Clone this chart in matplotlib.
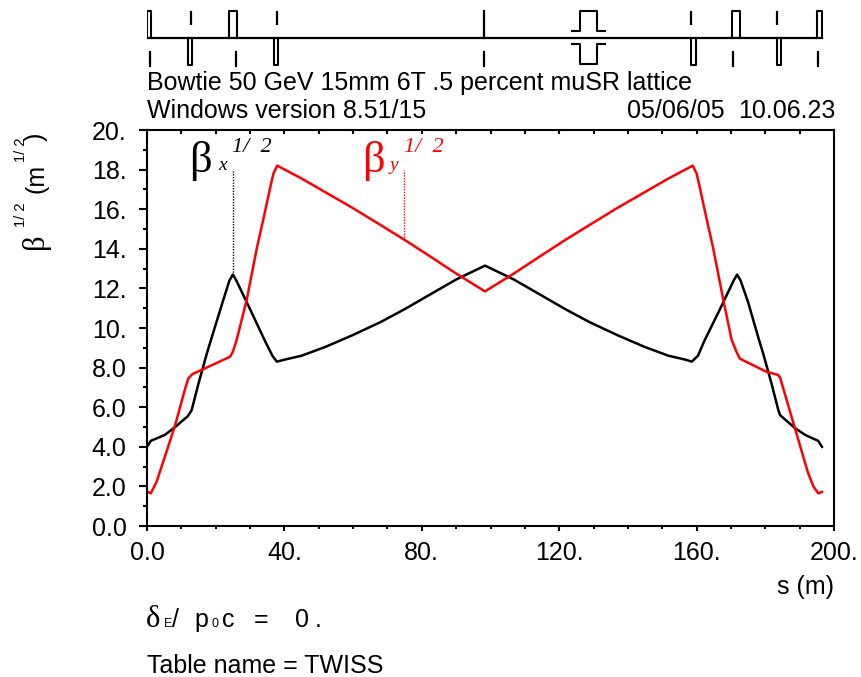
import matplotlib
matplotlib.use("Agg")
import matplotlib.pyplot as plt
import numpy as np

# beta functions
s_x = [0, 1.1, 5.2, 8.2, 11.9, 13, 15, 17.4, 18.8, 22, 24, 25, 26, 30, 34.4, 36.5, 37.8, 40, 45, 52, 60, 68, 75, 83, 90, 98.4,
       106.8, 113.8, 121.8, 128.8, 136.8, 144.8, 151.8, 156.8, 158.6, 160.4, 162.2, 166.8, 170.8, 171.8, 172.8, 175, 178, 179.4, 181.8, 183.8, 184.3, 188.6, 191.6, 195.4, 196.5]
beta_x = [4.0, 4.3, 4.6, 5.0, 5.55, 5.85, 7.2, 8.7, 9.5, 11.3, 12.4, 12.7, 12.4, 10.95, 9.33, 8.6, 8.3, 8.4, 8.6, 9.05, 9.65, 10.3, 10.95, 11.75, 12.45, 13.15,
          12.45, 11.75, 10.95, 10.3, 9.65, 9.05, 8.6, 8.4, 8.3, 8.6, 9.33, 10.95, 12.4, 12.7, 12.4, 11.3, 9.5, 8.7, 7.2, 5.85, 5.6, 4.95, 4.6, 4.3, 4.0]
s_y = [0.1, 1.1, 2.8, 5.2, 8.2, 11, 12, 13.2, 18, 24.2, 25, 26.1, 29, 32, 34, 36, 36.8, 37.9, 45, 52, 60, 68, 75, 83, 90, 98.4,
       106.8, 113.8, 121.8, 128.8, 136.8, 144.8, 151.8, 158.9, 160, 160.8, 162.8, 164.8, 167.8, 170.2, 171.6, 172.6, 180.2, 183.7, 184.3, 188.6, 192.4, 194, 195.4, 196.5]
beta_y = [1.73, 1.65, 2.24, 3.5, 5.1, 6.87, 7.45, 7.67, 8.05, 8.55, 8.8, 9.4, 11.4, 14.05, 15.6, 17.2, 17.8, 18.2, 17.55, 16.85, 16.05, 15.2, 14.45, 13.55, 12.75, 11.85,
          12.75, 13.55, 14.45, 15.2, 16.05, 16.85, 17.55, 18.2, 17.8, 17.2, 15.6, 14.05, 11.4, 9.4, 8.8, 8.45, 7.8, 7.63, 7.5, 4.95, 2.7, 2.0, 1.65, 1.72]

# lattice elements (s in m)
focus_s = [0.6, 25.1, 171.5, 195.8]
focus_w = [0.6, 1.1, 1.1, 0.7]
defocus_s = [12.6, 37.5, 159.1, 184.0]
defocus_w = [0.6, 0.6, 0.6, 0.6]
upper_dash = [12.8, 37.8, 158.4, 183.4]
lower_dash = [0.9, 25.9, 98.1, 170.5, 195.3]
center_s = 98.1
rf_s = [123.6, 126, 126, 130.9, 130.9, 133.4]

x_ticks = [0, 40, 80, 120, 160, 200]
x_labels = ["0.0", "40.", "80.", "120.", "160.", "200."]
y_ticks = [0, 2, 4, 6, 8, 10, 12, 14, 16, 18, 20]
y_labels = ["0.0", "2.0", "4.0", "6.0", "8.0", "10.", "12.", "14.", "16.", "18.", "20."]

W, H = 861, 677
plt.rcParams['font.family'] = ['Liberation Sans', 'DejaVu Sans']
fig = plt.figure(figsize=(W / 100, H / 100), dpi=100)

def box(x0, y0, x1, y1):
    return [x0 / W, 1 - y1 / H, (x1 - x0) / W, (y1 - y0) / H]

def put(x, y, txt, **kw):
    kw.setdefault('fontsize', 18)
    kw.setdefault('va', 'baseline')
    return fig.text(x / W, 1 - y / H, txt, **kw)

ax = fig.add_axes(box(147, 130, 834, 526))
ax.plot(s_x, beta_x, color='black', lw=1.8)
ax.plot(s_y, beta_y, color='red', lw=1.8)
ax.set_xlim(0, 200)
ax.set_ylim(0, 20)

# dotted leaders from the labels down to the curves
ax.plot([25.1, 25.1], [12.7, 18.0], color='black', lw=1, ls=(0, (1, 1)))
ax.plot([74.9, 74.9], [14.45, 18.0], color='red', lw=1, ls=(0, (1, 1)))

ax.set_xticks(x_ticks)
ax.set_xticklabels(x_labels)
ax.set_yticks(y_ticks)
ax.set_yticklabels(y_labels)
ax.set_xticks(np.arange(0, 201, 10), minor=True)
ax.set_yticks(np.arange(0, 21, 1), minor=True)
ax.tick_params(axis='y', which='major', length=5.8, width=1.5, labelsize=18, pad=9)
ax.tick_params(axis='y', which='minor', length=2.9, width=1.5)
ax.tick_params(axis='x', which='major', length=3.6, width=1.5, labelsize=18, pad=7)
ax.tick_params(axis='x', which='minor', length=2.2, width=1.5)
for sp in ax.spines.values():
    sp.set_linewidth(1.5)

# top ticks point inward
for val in np.arange(0, 201, 10):
    ax.plot([val, val], [20, 19.85], color='black', lw=1.5, clip_on=False)

# lattice strip on the same s scale
lat = fig.add_axes(box(147, 0, 834, 80))
lat.set_xlim(0, 200)
lat.set_ylim(80, 0)
lat.axis('off')
lat.plot([0, 196.5], [37.5, 37.5], color='black', lw=1.6)
for c, w in zip(focus_s, focus_w):
    lat.plot([c - w, c - w, c + w, c + w], [37.5, 11, 11, 37.5], color='black', lw=1.5)
for c, w in zip(defocus_s, defocus_w):
    lat.plot([c - w, c - w, c + w, c + w], [37.5, 65, 65, 37.5], color='black', lw=1.5)
lat.plot([center_s, center_s], [11, 37.5], color='black', lw=1.6)
for c in upper_dash:
    lat.plot([c, c], [11.5, 24], color='black', lw=1.6)
for c in lower_dash:
    lat.plot([c, c], [51.5, 65.5], color='black', lw=1.6)
lat.plot(rf_s, [31, 31, 11, 11, 31, 31], color='black', lw=1.5)
lat.plot(rf_s, [44, 44, 64, 64, 44, 44], color='black', lw=1.5)

put(147, 90, "Bowtie 50 GeV 15mm 6T .5 percent muSR lattice")
put(147, 118, "Windows version 8.51/15")
put(627, 118, "05/06/05")
put(738, 118, "10.06.23")
put(834, 594, "s (m)", ha='right')

serif = ['Liberation Serif', 'DejaVu Serif']
put(146, 627, "\u03b4", family=serif, fontsize=22)
put(164, 627, "E", fontsize=9)
put(172, 627, "/")
put(194, 627, "p")
put(212, 627, "0", fontsize=9)
put(222, 627, "c")
put(254, 627, "=")
put(295, 627, "0")
put(315, 627, ".")
put(147, 673, "Table name = TWISS")

# beta labels
put(189, 172, "\u03b2", family=serif, fontsize=32)
put(218, 170, "x", family=serif, fontsize=14, style='italic')
put(232, 152, "1/  2", family=serif, fontsize=16, style='italic')
put(362, 172, "\u03b2", family=serif, fontsize=32, color='red')
put(390, 170, "y", family=serif, fontsize=14, style='italic', color='red')
put(404, 152, "1/  2", family=serif, fontsize=16, style='italic', color='red')

# rotated y title
rot = dict(rotation=90, rotation_mode='anchor', ha='left')
put(43, 249, "\u03b2", family=serif, fontsize=22, **rot)
put(25, 227, "1/ 2", fontsize=10.5, **rot)
put(43, 193, "(m", **rot)
put(25, 162, "1/ 2", fontsize=10.5, **rot)
put(43, 141, ")", **rot)

fig.savefig("out.png", dpi=100)
